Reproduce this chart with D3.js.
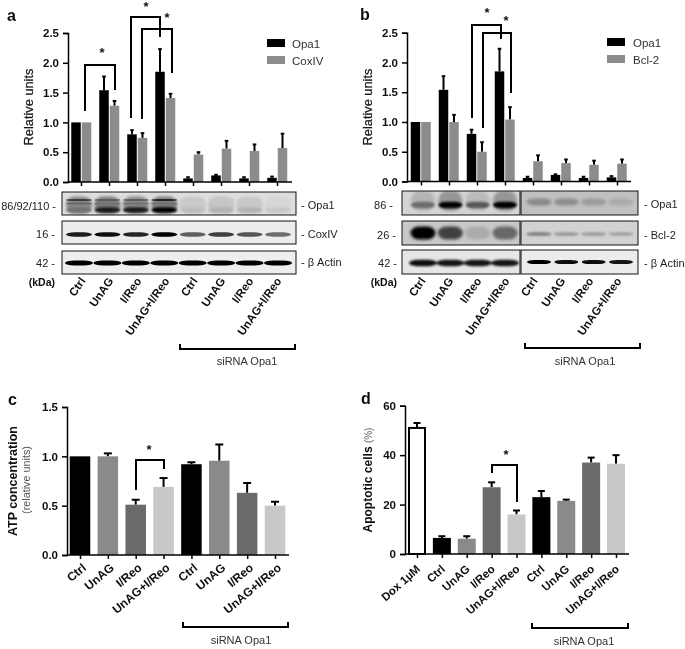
<!DOCTYPE html>
<html><head><meta charset="utf-8">
<script src="https://cdn.jsdelivr.net/npm/d3@7"></script>
<style>html,body{margin:0;background:#fff}svg{display:block}text{font-family:"Liberation Sans",Arial,sans-serif;fill:#111}</style>
</head><body><svg id="c" width="685" height="649"></svg>
<script>
const groups = ["Ctrl","UnAG","I/Reo","UnAG+I/Reo","Ctrl","UnAG","I/Reo","UnAG+I/Reo"];
const groupsD = ["Dox 1µM",...groups];
const opa1 = [1.0,1.54,0.80,1.85,0.06,0.11,0.06,0.07];
const opa1Top = [1.0,1.77,0.87,2.23,0.08,0.12,0.08,0.09];
const cox4 = [1.0,1.28,0.74,1.41,0.46,0.56,0.52,0.57];
const cox4Top = [1.0,1.36,0.82,1.48,0.50,0.69,0.63,0.81];
const bcl2 = [1.0,1.0,0.50,1.04,0.34,0.31,0.28,0.30];
const bcl2Top = [1.0,1.12,0.66,1.25,0.44,0.37,0.35,0.37];
const atp = [1.0,1.0,0.51,0.69,0.92,0.955,0.63,0.50];
const atpTop = [1.0,1.03,0.56,0.78,0.94,1.12,0.73,0.54];
const apo = [51,6.5,6.2,27,16,23,21.5,37,36.5];
const apoTop = [53,7.2,7.2,29,17.6,25.5,22,39,40];
const yTicks25 = [0,0.5,1,1.5,2,2.5];
const yTicks15 = [0,0.5,1,1.5];
const yTicks60 = [0,20,40,60];
// band darkness per lane, read from the blots
const aOpaSmear = [.4,.45,.4,.45,.1,.12,.1,.04];
const aOpaUpper = [.75,.6,.6,.85,.1,.1,.1,.03];
const aOpaMid = [.55,.5,.5,.5,.08,.1,.1,.03];
const aOpaLower = [.5,.9,.9,1,.15,.2,.2,.1];
const aCox = [.9,.95,.85,1,.6,.75,.65,.55];
const aActin = [1,1,1,1,1,1,1,1];
const bOpa = [.5,1,.6,1,.3,.28,.2,.12];
const bOpaSmear = [.15,.3,.12,.3];
const bBcl = [1,.7,.15,.5,.42,.3,.28,.25];
const bActinL = [.95,.92,.92,.92];
const bActinR = [1,.98,.98,.92];

const svg = d3.select("#c");
const defs = svg.append("defs");
[[.6,"b05"],[1,"b09"],[1.8,"b14"],[.3,"soft"]].forEach(([s,id])=>defs.append("filter").attr("id",id)
  .attr("x","-30%").attr("y","-80%").attr("width","160%").attr("height","260%")
  .append("feGaussianBlur").attr("stdDeviation",s));

const root = svg.append("g");
function T(x,y,s,o={}){const t=root.append("text").attr("x",x).attr("y",y).attr("font-size",o.size||11)
  .attr("font-weight",o.bold?"bold":"normal").attr("text-anchor",o.anchor||"start").text(s);
  if(o.rot!=null)t.attr("transform",`rotate(${o.rot} ${x} ${y})`);
  if(o.fill)t.style("fill",o.fill);
  if(o.heavy)t.attr("stroke","#222").attr("stroke-width",o.heavy);
  return t;}

function chart(p){
  const g=root.append("g");
  const y=d3.scaleLinear().domain(p.dom).range([p.y0,p.y1]);
  const x=d3.scalePoint().domain(d3.range(p.n)).range([p.xa,p.xb]);
  const w=p.barW;
  p.series.forEach(s=>{
    s.values.forEach((v,i)=>{
      const cx=x(i)+s.off, col=s.colors?s.colors[i%s.colors.length]:s.color;
      const top=s.tops[i];
      if(top>v){
        g.append("line").attr("x1",cx).attr("x2",cx).attr("y1",y(v)).attr("y2",y(top)).attr("stroke","#000").attr("stroke-width",p.errW);
        g.append("line").attr("x1",cx-p.cap).attr("x2",cx+p.cap).attr("y1",y(top)).attr("y2",y(top)).attr("stroke","#000").attr("stroke-width",p.errW);
      }
      if(col==="#fff") g.append("rect").attr("x",cx-w/2+1).attr("width",w-2).attr("y",y(v)).attr("height",y(0)-y(v)).attr("fill","#fff").attr("stroke","#000").attr("stroke-width",2);
      else g.append("rect").attr("x",cx-w/2).attr("width",w).attr("y",y(v)).attr("height",y(0)-y(v)).attr("fill",col);
    });
  });
  const ya=d3.axisLeft(y).tickValues(p.ticks).tickFormat(p.fmt).tickSize(5).tickPadding(4);
  const yg=g.append("g").attr("transform",`translate(${p.xAxis},0)`).call(ya);
  const xa=d3.axisBottom(x).tickFormat(()=>"").tickSize(4);
  const xg=g.append("g").attr("transform",`translate(0,${p.y0})`).call(xa);
  xg.select(".domain").attr("d",`M${p.xAxis},0H${p.xEnd}`);
  g.selectAll(".domain,.tick line").attr("stroke","#000").attr("stroke-width",1.5);
  yg.selectAll("text").attr("font-size",11.5).attr("font-weight","bold").attr("font-family",'"Liberation Sans"').style("fill","#111");
  return {x,y};
}
function labels(x,list,dy,rot,dx,size){list.forEach((s,i)=>{
  T(x(i)+dx,dy,s,{size,bold:true,anchor:"end",rot});
});}
function bracket(x1,x2,top,yl,yr,sx,sy){
  root.append("path").attr("d",`M${x1},${yl}V${top}H${x2}V${yr}`).attr("fill","none").attr("stroke","#000").attr("stroke-width",2);
  T(sx,sy,"*",{size:13,bold:true,anchor:"middle"});
}
function si(x1,x2,y,tx,ty){
  root.append("path").attr("d",`M${x1},${y-5}V${y}H${x2}V${y-5}`).attr("fill","none").attr("stroke","#000").attr("stroke-width",2);
  T(tx,ty,"siRNA Opa1",{size:11,anchor:"middle",fill:"#333"});
}
function legend(x,y,names,tx){names.forEach((n,i)=>{
  root.append("rect").attr("x",x).attr("y",y+i*17).attr("width",18).attr("height",8).attr("fill",i?"#8c8c8c":"#000");
  T(tx,y+8.5+i*17,n,{size:11.5,fill:"#333"});
});}

// a
const fmt1=d3.format(".1f");
const A=chart({dom:[0,2.5],y0:182,y1:33,n:8,xa:81,xb:277,xAxis:68,xEnd:292,barW:9.5,errW:2,cap:1.8,ticks:yTicks25,fmt:fmt1,
  series:[{values:opa1,tops:opa1Top,off:-5,color:"#000"},{values:cox4,tops:cox4Top,off:5.5,color:"#8c8c8c"}]});
T(7,21,"a",{size:16,bold:true});
T(32.5,107,"Relative units",{size:12.8,anchor:"middle",rot:-90,heavy:.25});
legend(267,39,["Opa1","CoxIV"],292);
bracket(85,115,65,111,90,102,57);
bracket(131,160,17,118,37,146,11);
bracket(142,172,29,119,73,167,22);
labels(A.x,groups,281,-55,5,11.5);
si(180,295,349,247,365);

// b
const B=chart({dom:[0,2.5],y0:181.5,y1:32.7,n:8,xa:421,xb:617,xAxis:407,xEnd:631,barW:9.5,errW:2,cap:1.8,ticks:yTicks25,fmt:fmt1,
  series:[{values:opa1,tops:opa1Top,off:-5.5,color:"#000"},{values:bcl2,tops:bcl2Top,off:5,color:"#8c8c8c"}]});
T(360,20,"b",{size:16,bold:true});
T(371.5,107,"Relative units",{size:12.8,anchor:"middle",rot:-90,heavy:.25});
legend(607,38,["Opa1","Bcl-2"],633);
bracket(472,501,25,118,39,487,17);
bracket(483,511,33,128,93,506,25);
labels(B.x,groups,281,-55,5,11.5);
si(525,640,348,585,365);

// c
const C=chart({dom:[0,1.5],y0:555,y1:407,n:8,xa:80,xb:275,xAxis:67,xEnd:289,barW:20.5,errW:2,cap:4,ticks:yTicks15,fmt:fmt1,
  series:[{values:atp,tops:atpTop,off:0,colors:["#000","#8a8a8a","#6a6a6a","#c8c8c8"]}]});
T(8,405,"c",{size:16,bold:true});
T(17,481,"ATP concentration",{size:12.5,bold:true,anchor:"middle",rot:-90});
T(30,480,"(relative units)",{size:10.8,anchor:"middle",rot:-90,fill:"#555"});
bracket(136,164,460,490,469,149,454);
labels(C.x,groups,569,-40,7,12);
si(183,288,627,241,644);

// d
const D=chart({dom:[0,60],y0:554,y1:405.7,n:9,xa:417,xb:616,xAxis:405,xEnd:629,barW:18,errW:2,cap:3.5,ticks:yTicks60,fmt:d3.format("d"),
  series:[{values:apo,tops:apoTop,off:0,colors:["#fff","#000","#8a8a8a","#6a6a6a","#c8c8c8","#000","#8a8a8a","#6a6a6a","#c8c8c8"]}]});
T(361,404,"d",{size:16,bold:true});
{const t=T(372,480,"",{size:12,bold:true,anchor:"middle",rot:-90});
 t.append("tspan").text("Apoptotic cells ");t.append("tspan").attr("font-weight","normal").attr("font-size",10).style("fill","#666").text("(%)");}
bracket(492,517,465,473,502,506,459);
labels(D.x,groupsD,570,-42,4,11.5);
si(532,628,628,584,645);

// blots
function blot(x0,x1,y0,y1,bg,bands,lanes,bw){
  const g=root.append("g");
  const cid="cl"+Math.round(x0)+"_"+Math.round(y0);
  defs.append("clipPath").attr("id",cid).append("rect").attr("x",x0).attr("y",y0).attr("width",x1-x0).attr("height",y1-y0);
  g.append("rect").attr("x",x0).attr("y",y0).attr("width",x1-x0).attr("height",y1-y0).attr("fill",bg);
  const inner=g.append("g").attr("clip-path",`url(#${cid})`);
  const lx=d3.scalePoint().domain(d3.range(lanes.n)).range([lanes.a,lanes.b]);
  const dark=d3.scaleLinear().domain([0,1]).range([bg,"#050505"]);
  bands.forEach(b=>{
    const gb=inner.append("g").attr("filter",`url(#${b.blur||"b05"})`);
    b.vals.forEach((v,i)=>{
      const W=b.w||bw;
      gb.append("rect").attr("x",lx(i)-W/2).attr("y",y0+b.dy-b.h/2).attr("width",W).attr("height",b.h)
        .attr("rx",W/3).attr("ry",b.h/2).attr("fill",dark(v));
    });
  });
  g.append("rect").attr("x",x0).attr("y",y0).attr("width",x1-x0).attr("height",y1-y0).attr("fill","none").attr("stroke","#111").attr("stroke-width",1);
}
const laneA={n:8,a:79,b:278}, laneBL={n:4,a:423,b:505}, laneBR={n:4,a:539,b:621};
blot(62,296,192,215,"#dedede",[{vals:aOpaSmear,dy:13,h:17,blur:"b14"},{vals:aOpaUpper,dy:8,h:2},{vals:aOpaMid,dy:11.5,h:2},{vals:aOpaLower,dy:18,h:5.5,blur:"b09"}],laneA,26);
blot(62,296,221,244,"#ececec",[{vals:aCox,dy:13.5,h:4.5}],laneA,26);
blot(62,296,251,274,"#eeeeee",[{vals:aActin,dy:12,h:5}],laneA,28);
blot(402,520,191,215,"#d4d4d4",[{vals:bOpaSmear,dy:10,h:20,blur:"b14"},{vals:bOpa.slice(0,4),dy:14,h:6.5,blur:"b09"}],laneBL,24);
blot(521,638,191,215,"#c0c0c0",[{vals:bOpa.slice(4),dy:11,h:7,blur:"b14"}],laneBR,25);
blot(402,520,221,245,"#c8c8c8",[{vals:bBcl.slice(0,4),dy:12,h:13,blur:"b14"}],laneBL,25);
blot(521,638,221,245,"#d2d2d2",[{vals:bBcl.slice(4),dy:13,h:3.5,blur:"b09"}],laneBR,25);
blot(402,520,250,274,"#e6e6e6",[{vals:bActinL,dy:13,h:6.5,blur:"b09"}],laneBL,28);
blot(521,638,250,274,"#ececec",[{vals:bActinR,dy:12,h:4}],laneBR,24);

[["86/92/110 -",56,210],["16  -",55,238],["42  -",55,267],["86 -",393,209],["26  -",396,239],["42  -",397,267]]
 .forEach(d=>T(d[1],d[2],d[0],{size:11,anchor:"end",fill:"#222"}));
T(55,286,"(kDa)",{size:10.5,bold:true,anchor:"end"});
T(397,286,"(kDa)",{size:10.5,bold:true,anchor:"end"});
[["- Opa1",301,209],["- CoxIV",301,238],["- β Actin",301,266],["- Opa1",644,208],["- Bcl-2",644,239],["- β Actin",644,267]]
 .forEach(d=>T(d[1],d[2],d[0],{size:11,fill:"#222"}));
root.attr("filter","url(#soft)");
</script></body></html>
